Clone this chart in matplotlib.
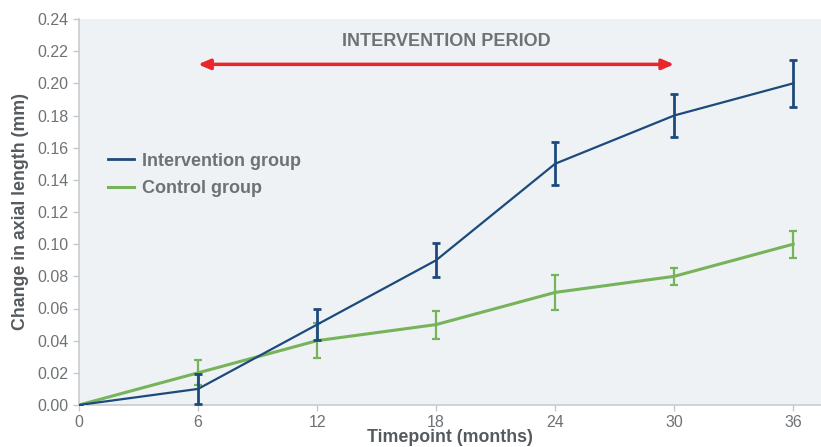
import matplotlib
matplotlib.use("Agg")
import matplotlib.pyplot as plt
from matplotlib.lines import Line2D

# Data
months = [0, 6, 12, 18, 24, 30, 36]
intervention = [0.0, 0.01, 0.05, 0.09, 0.15, 0.18, 0.20]
intervention_err = [0.0, 0.0095, 0.0097, 0.0105, 0.0134, 0.0134, 0.0148]
control = [0.0, 0.02, 0.04, 0.05, 0.07, 0.08, 0.10]
control_err = [0.0, 0.0078, 0.0107, 0.0087, 0.0108, 0.0052, 0.0084]
period_start, period_end = 6, 30
xticks = [0, 6, 12, 18, 24, 30, 36]
yticks = [0.00, 0.02, 0.04, 0.06, 0.08, 0.10, 0.12, 0.14, 0.16, 0.18, 0.20, 0.22, 0.24]

plt.rcParams["font.family"] = ["Liberation Sans", "DejaVu Sans"]

blue = "#1d4a7c"
green = "#76b35a"
red = "#e8262c"
grey_text = "#6e7275"
label_grey = "#555a5e"

fig = plt.figure(figsize=(8.21, 4.47), dpi=100)
ax = fig.add_axes([79 / 821, 42 / 447, 742 / 821, 386 / 447])
ax.set_facecolor("#eef2f4")

ax.errorbar(months, intervention, yerr=intervention_err, color=blue, lw=1.6,
            capsize=3, capthick=2.0, elinewidth=2.0, zorder=3)
ax.errorbar(months, control, yerr=control_err, color=green, lw=2.2,
            capsize=3, capthick=1.6, elinewidth=1.6, zorder=2)

# intervention period arrow
ax.annotate("", xy=(period_end, 0.2118), xytext=(period_start, 0.2118),
            arrowprops=dict(arrowstyle="<|-|>,head_length=0.7,head_width=0.3",
                            color=red, lw=2.5, shrinkA=0, shrinkB=0))
ax.text((period_start + period_end) / 2 + 0.5, 0.2262, "INTERVENTION PERIOD",
        ha="center", va="center", fontsize=13, fontweight="bold", color=grey_text)

ax.set_xlim(0, 37.4)
ax.set_ylim(0, 0.24)
ax.set_xticks(xticks)
ax.set_yticks(yticks)
ax.set_yticklabels([f"{v:.2f}" for v in yticks])
ax.tick_params(colors="#c5c9cc", labelcolor=grey_text, labelsize=11.5, length=4, width=1)

for side in ["top", "right"]:
    ax.spines[side].set_visible(False)
for side in ["left", "bottom"]:
    ax.spines[side].set_color("#c8ccd0")
    ax.spines[side].set_linewidth(1.2)

ax.set_xlabel("Timepoint (months)", fontsize=12.8, fontweight="bold", color=label_grey, labelpad=-1)
ax.set_ylabel("Change in axial length (mm)", fontsize=12.8, fontweight="bold", color=label_grey, labelpad=6)

handles = [Line2D([], [], color=blue, lw=2, label="Intervention group"),
           Line2D([], [], color=green, lw=2.2, label="Control group")]
leg = ax.legend(handles=handles, loc="center left", bbox_to_anchor=(0.039, 0.596),
                frameon=False, borderpad=0, borderaxespad=0,
                handlelength=1.44, handletextpad=0.43, labelspacing=0.6,
                prop=dict(size=13, weight="bold"))
for t in leg.get_texts():
    t.set_color(grey_text)

fig.savefig("out.png", dpi=100)
